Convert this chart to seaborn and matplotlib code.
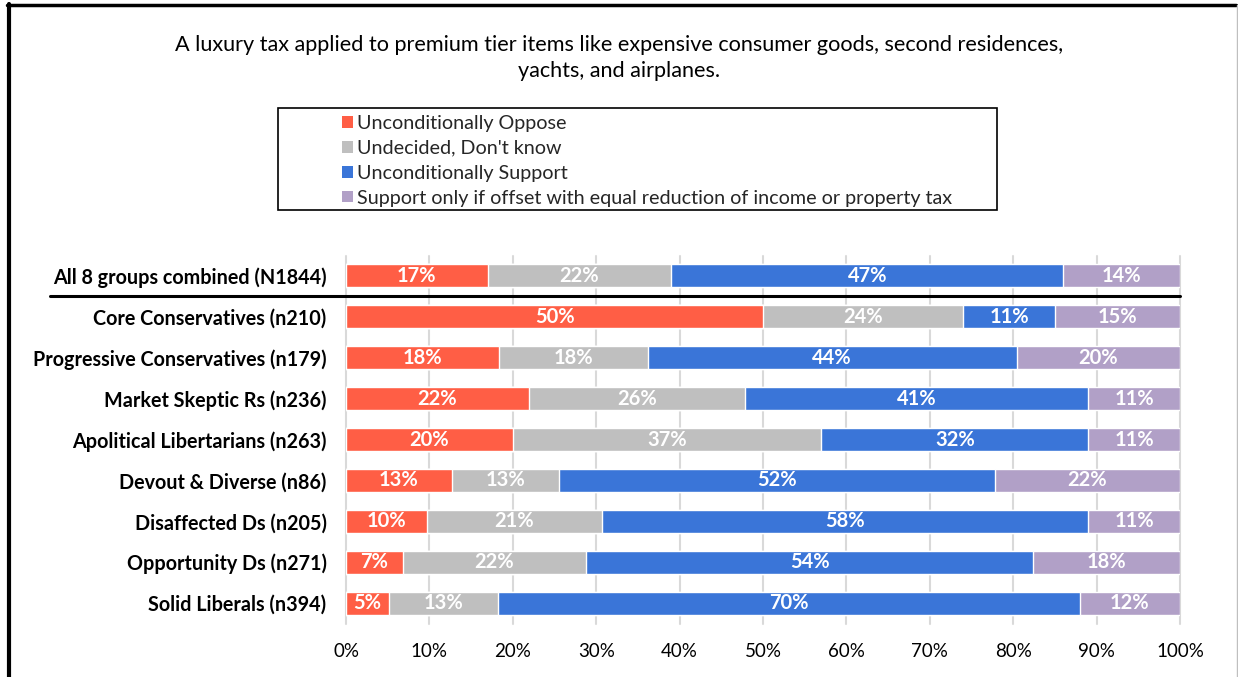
import numpy as np
import pandas as pd
import matplotlib
matplotlib.use("Agg")
import matplotlib.pyplot as plt
import seaborn as sns
from matplotlib.patches import Rectangle
from matplotlib.lines import Line2D
import matplotlib.transforms as mtrans

groups = [
    "All 8 groups combined (N1844)",
    "Core Conservatives (n210)",
    "Progressive Conservatives (n179)",
    "Market Skeptic Rs (n236)",
    "Apolitical Libertarians (n263)",
    "Devout & Diverse (n86)",
    "Disaffected Ds (n205)",
    "Opportunity Ds (n271)",
    "Solid Liberals (n394)",
]
oppose = [17.0, 50.0, 18.3, 21.9, 20.0, 12.7, 9.7, 6.8, 5.2]
undecided = [22.0, 24.0, 17.9, 25.9, 37.0, 12.8, 21.0, 22.0, 13.0]
support = [47.0, 11.0, 44.2, 41.2, 32.0, 52.3, 58.3, 53.6, 69.8]
offset = [14.0, 15.0, 19.6, 11.0, 11.0, 22.2, 11.0, 17.6, 12.0]

series_names = [
    "Unconditionally Oppose",
    "Undecided, Don't know",
    "Unconditionally Support",
    "Support only if offset with equal reduction of income or property tax",
]
colors = ["#FF5E45", "#BFBFBF", "#3A75D8", "#B1A0C7"]
title = ("A luxury tax applied to premium tier items like expensive consumer goods, second residences,\n"
         "yachts, and airplanes.")
xticks = [0, 10, 20, 30, 40, 50, 60, 70, 80, 90, 100]
xticklabels = [f"{t}%" for t in xticks]

sns.set_theme(style="white")
plt.rcParams["font.family"] = ["Lato", "DejaVu Sans"]

W, H = 1238, 677
fig = plt.figure(figsize=(W / 100, H / 100), dpi=100)
ax = fig.add_axes([346 / W, 1 - 623.5 / H, (1180 - 346) / W, 368 / H])

df = pd.DataFrame({"group": groups, "o": oppose, "u": undecided, "s": support, "f": offset})
vals = df[["o", "u", "s", "f"]].to_numpy()
cum = vals.cumsum(axis=1)
for k in range(4):
    df[f"c{k}"] = cum[:, k]

# draw from the full stack down so each layer shows its own segment
for k in [3, 2, 1, 0]:
    sns.barplot(data=df, x=f"c{k}", y="group", order=groups, orient="h",
                color=colors[k], saturation=1, width=0.56, errorbar=None,
                ax=ax, zorder=2)

# segment labels
for i in range(len(groups)):
    for k in range(4):
        v = vals[i, k]
        center = cum[i, k] - v / 2
        ax.text(center, i, f"{v:.0f}%", ha="center", va="center",
                color="white", fontsize=14.5, fontweight="bold", zorder=3)

ax.set_xlim(0, 100)
ax.set_xticks(xticks)
ax.set_xticklabels(xticklabels, fontsize=13.5, color="black")
ax.set_xlabel("")
ax.set_ylabel("")
for lab in ax.get_yticklabels():
    lab.set_fontweight("bold")
    lab.set_fontsize(14.2)
    lab.set_color("black")
ax.tick_params(axis="y", length=0, pad=14)
ax.tick_params(axis="x", length=0, pad=14)
ax.set_axisbelow(True)
ax.xaxis.grid(True, color="#D9D9D9", lw=1.5)
for ln in ax.get_xgridlines():
    ln.set_clip_on(False)
for sp in ax.spines.values():
    sp.set_visible(False)

# separator under combined row
blend = mtrans.blended_transform_factory(ax.transAxes, ax.transData)
ax.add_line(Line2D([(50 - 346) / (1180 - 346), 1.0], [0.48, 0.48], transform=blend,
                   color="black", lw=2.2, clip_on=False, zorder=4))

# title
fig.text(0.5, 1 - 58 / H, title, ha="center", va="center", fontsize=15.6,
         multialignment="center", linespacing=1.4, color="black")

# legend box
fig.add_artist(Rectangle((278 / W, 1 - 210 / H), (997 - 278) / W, (210 - 108) / H,
                         transform=fig.transFigure, fill=False, edgecolor="black", lw=1.2))
handles = [Rectangle((0, 0), 1, 1, facecolor=c, edgecolor="none") for c in colors]
fig.legend(handles, series_names, loc="upper left",
           bbox_to_anchor=(331 / W, 1 - 104 / H), frameon=False, fontsize=14.2,
           handlelength=0.55, handleheight=0.55, handletextpad=0.2,
           labelspacing=0.4, borderpad=0.05)

# outer frame
fig.add_artist(Line2D([9 / W, 9 / W], [0, 1 - 4 / H], transform=fig.transFigure,
                      color="black", lw=3))
fig.add_artist(Line2D([7 / W, 1236 / W], [1 - 5 / H, 1 - 5 / H], transform=fig.transFigure,
                      color="black", lw=2.5))
fig.add_artist(Line2D([1237 / W, 1237 / W], [0, 1 - 5 / H], transform=fig.transFigure,
                      color="#BFBFBF", lw=1))

fig.savefig("out.png", dpi=100)
